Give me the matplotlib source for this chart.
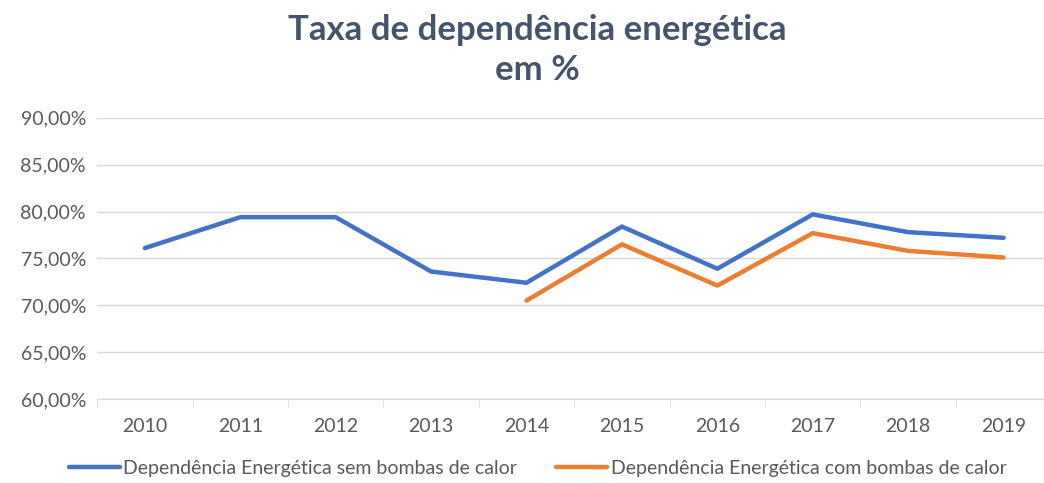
import numpy as np
import matplotlib
matplotlib.use("Agg")
import matplotlib.pyplot as plt
from matplotlib.ticker import FuncFormatter

# data
years = ["2010", "2011", "2012", "2013", "2014", "2015", "2016", "2017", "2018", "2019"]
sem_bombas = [76.1, 79.4, 79.4, 73.6, 72.4, 78.4, 73.9, 79.7, 77.8, 77.2]
com_bombas = [np.nan, np.nan, np.nan, np.nan, 70.5, 76.5, 72.1, 77.7, 75.8, 75.1]
label_sem = "Dependência Energética sem bombas de calor"
label_com = "Dependência Energética com bombas de calor"
title = "Taxa de dependência energética\nem %"

plt.rcParams['font.family'] = ['Lato', 'DejaVu Sans']

fig = plt.figure(figsize=(10.44, 4.83), dpi=100)
ax = fig.add_axes([0.093, 0.174, 0.914, 0.582])

x = np.arange(len(years))
ax.plot(x, sem_bombas, color='#4472C4', lw=3.2, solid_capstyle='round',
        solid_joinstyle='round', label=label_sem, zorder=3)
ax.plot(x, com_bombas, color='#ED7D31', lw=3.2, solid_capstyle='round',
        solid_joinstyle='round', label=label_com, zorder=3)

ax.set_ylim(60, 90)
ax.set_yticks(np.arange(60, 91, 5))
ax.yaxis.set_major_formatter(FuncFormatter(lambda v, p: f"{v:.2f}%".replace('.', ',')))
ax.set_xlim(-0.5, len(years) - 0.5)
ax.set_xticks(x)
ax.set_xticklabels(years)
ax.set_xticks(np.arange(-0.5, len(years), 1), minor=True)

ax.grid(axis='y', color='#D9D9D9', lw=1)
ax.set_axisbelow(True)
for s in ['top', 'right', 'left']:
    ax.spines[s].set_visible(False)
ax.spines['bottom'].set_color('#D9D9D9')
ax.tick_params(axis='y', length=0, labelsize=14, labelcolor='#595959', pad=8)
ax.tick_params(axis='x', which='major', length=0, labelsize=14, labelcolor='#595959', pad=14)
ax.tick_params(axis='x', which='minor', length=6, color='#D9D9D9')

fig.text(0.515, 0.897, title, ha='center', va='center', fontsize=25,
         fontweight='bold', color='#44546A', linespacing=1.3)

fig.legend(loc='center', bbox_to_anchor=(0.515, 0.03), ncol=2, frameon=False,
           fontsize=14, labelcolor='#595959', handlelength=2.6,
           handletextpad=0.2, columnspacing=2.0)

fig.savefig("out.png", dpi=100)
